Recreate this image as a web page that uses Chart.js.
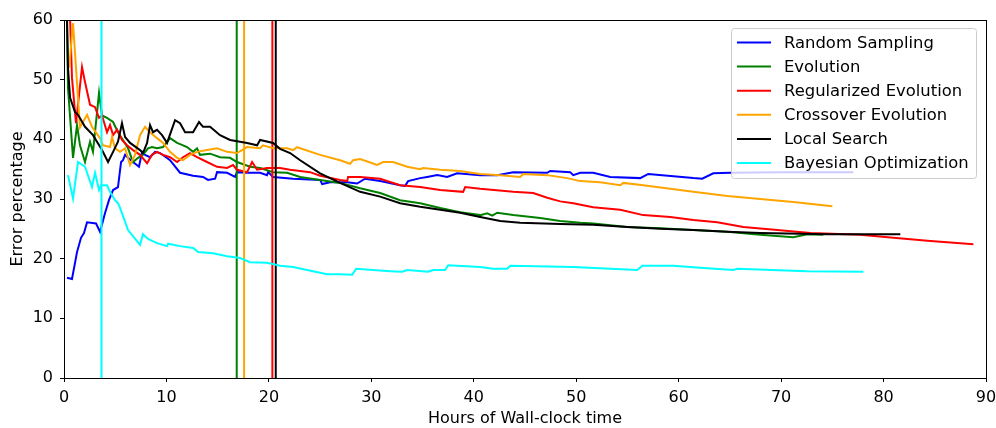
<!DOCTYPE html>
<html>
<head>
<meta charset="utf-8">
<script src="https://cdn.jsdelivr.net/npm/chart.js@4/dist/chart.umd.min.js"></script>
<style>
  html, body { margin: 0; padding: 0; background: #fff; }
  #wrap { width: 996px; height: 428px; }
</style>
</head>
<body>
<div id="wrap"><canvas id="chart" width="996" height="428"></canvas></div>
<script>
// series names and colours
const names = ["Random Sampling", "Evolution", "Regularized Evolution", "Crossover Evolution", "Local Search", "Bayesian Optimization"];
const colors = ["#0000ff", "#008000", "#ff0000", "#ffa500", "#000000", "#00ffff"];

// x ticks / y ticks
const xTicks = [0, 10, 20, 30, 40, 50, 60, 70, 80, 90];
const yTicks = [0, 10, 20, 30, 40, 50, 60];

// [hours, error %]
const randomSampling = [[0.29,16.8],[0.78,16.6],[1.27,21.1],[1.66,23.5],[1.95,24.3],[2.25,26.1],[3.13,25.9],[3.52,24.5],[4.0,27.6],[4.39,29.8],[4.79,31.5],[5.27,32.0],[5.57,36.2],[5.76,36.5],[5.96,37.4],[6.25,36.9],[6.74,36.2],[7.32,35.4],[7.62,37.9],[7.91,37.4],[8.4,37.0],[8.89,37.9],[9.38,37.7],[10.35,36.5],[11.33,34.4],[12.6,33.9],[13.57,33.7],[14.06,33.2],[14.75,33.4],[14.94,34.5],[15.92,34.4],[16.7,33.7],[16.89,34.5],[17.87,34.4],[19.14,34.4],[19.82,34.0],[19.92,34.5],[20.41,33.7],[22.36,33.4],[25.0,33.2],[25.2,32.5],[25.98,32.8],[27.64,32.8],[28.61,32.6],[29.39,33.4],[30.86,33.0],[32.81,32.3],[33.3,32.2],[33.59,33.0],[34.77,33.5],[35.45,33.7],[36.43,34.0],[37.4,33.7],[38.38,34.3],[40.63,34.0],[42.29,34.0],[43.85,34.5],[47.17,34.4],[47.46,34.7],[49.41,34.5],[49.71,34.0],[50.39,34.4],[51.66,34.4],[53.32,33.7],[56.25,33.5],[57.03,34.2],[61.43,33.5],[62.3,33.4],[63.38,34.3],[65.04,34.4],[70.0,34.5],[77.05,34.5]];
const evolution = [[0.29,60.5],[0.39,48.6],[0.88,36.9],[1.27,42.4],[1.56,39.0],[2.05,36.2],[2.54,39.6],[2.83,37.9],[3.42,47.8],[3.71,44.0],[4.2,43.6],[4.79,42.9],[5.27,41.2],[5.76,39.9],[6.25,38.5],[6.74,36.2],[7.23,36.9],[7.71,37.4],[8.2,38.5],[8.59,38.7],[9.08,38.5],[9.67,38.7],[10.35,40.2],[11.04,39.4],[11.62,39.0],[12.01,38.7],[12.6,37.9],[12.99,38.5],[13.28,37.4],[14.26,37.6],[15.23,37.0],[16.21,36.9],[16.89,36.2],[18.16,35.4],[19.14,35.2],[20.41,34.5],[21.78,34.4],[23.05,33.7],[25.0,33.2],[26.95,32.7],[28.91,31.8],[30.86,31.0],[32.81,29.8],[34.77,29.3],[36.72,28.5],[38.67,27.8],[40.63,27.3],[41.31,27.6],[41.8,27.2],[42.29,27.7],[43.85,27.3],[46.48,26.8],[48.44,26.3],[50.39,26.0],[51.66,25.9],[54.98,25.3],[58.2,25.1],[61.43,24.8],[64.75,24.5],[67.97,24.0],[71.19,23.6],[72.56,24.1],[74.12,24.0]];
const regularizedEvolution = [[0.59,60.5],[0.78,50.3],[1.17,42.7],[1.76,52.1],[2.05,49.6],[2.54,45.8],[3.03,45.4],[3.42,43.6],[3.71,44.0],[4.2,41.2],[4.49,42.4],[4.79,40.7],[5.18,41.6],[5.66,39.9],[6.15,39.0],[6.74,38.2],[7.42,37.4],[8.11,36.0],[8.59,37.4],[9.08,37.9],[9.67,37.4],[10.35,37.0],[11.04,36.2],[11.62,37.0],[12.3,37.7],[12.99,37.0],[13.96,36.2],[14.94,35.4],[15.92,35.2],[16.5,35.7],[16.89,34.9],[17.87,34.5],[18.36,36.2],[18.85,34.9],[19.82,35.2],[21.09,35.2],[22.07,34.9],[24.02,34.5],[25.0,33.9],[26.95,33.2],[27.64,33.0],[27.73,33.7],[28.91,33.7],[30.86,33.4],[32.81,32.3],[34.77,32.0],[36.72,31.5],[38.96,31.2],[39.16,32.0],[40.63,31.7],[43.85,31.2],[45.8,31.0],[47.17,30.2],[48.44,29.6],[49.71,29.3],[51.66,28.6],[54.3,28.2],[56.54,27.3],[59.18,27.0],[61.43,26.5],[63.77,26.1],[66.31,25.3],[69.63,24.8],[72.85,24.3],[77.73,24.0],[80.96,23.5],[84.28,23.0],[88.77,22.4]];
const crossoverEvolution = [[0.5,52.0],[0.88,59.5],[1.56,42.0],[2.25,44.1],[2.73,42.1],[3.52,40.2],[3.81,39.0],[4.49,38.7],[4.69,40.4],[4.98,38.5],[5.47,37.9],[5.96,38.5],[6.45,35.7],[6.93,37.4],[7.42,40.7],[7.91,42.1],[8.4,41.2],[9.08,40.2],[9.67,39.4],[10.35,37.9],[11.04,36.9],[11.62,36.5],[12.3,37.4],[12.99,37.9],[13.96,38.2],[14.94,38.5],[15.92,37.9],[16.89,37.7],[17.87,38.7],[19.14,38.5],[19.43,39.0],[20.41,38.5],[21.78,38.5],[22.36,38.2],[22.75,38.7],[23.05,38.5],[25.0,37.4],[26.95,36.5],[27.93,35.9],[28.22,36.5],[28.91,36.7],[30.57,35.7],[31.15,36.2],[32.13,36.2],[33.5,35.4],[34.77,35.0],[35.06,35.2],[36.72,34.9],[38.67,34.7],[40.63,34.2],[42.58,34.0],[44.53,33.7],[44.82,34.2],[47.17,34.0],[49.12,33.5],[50.39,33.0],[52.34,32.8],[54.3,32.3],[54.59,32.7],[56.54,32.3],[59.18,31.7],[61.43,31.2],[64.75,30.5],[67.97,30.0],[71.19,29.5],[75.0,28.8]];
const localSearch = [[0.29,60.5],[0.39,52.0],[0.59,47.0],[1.07,44.6],[1.37,44.1],[2.05,42.1],[2.83,40.7],[3.71,38.2],[4.3,36.2],[4.79,37.9],[5.27,39.6],[5.66,42.7],[5.96,40.4],[6.45,39.4],[7.42,38.2],[7.71,37.7],[8.11,39.4],[8.4,42.4],[8.69,41.2],[9.08,41.6],[9.57,40.7],[10.06,39.4],[10.84,43.2],[11.33,42.7],[11.82,41.2],[12.6,41.2],[13.18,42.9],[13.57,42.1],[14.26,42.1],[15.23,40.7],[16.21,39.9],[17.87,39.4],[18.85,39.0],[19.14,39.9],[20.41,39.4],[21.09,38.4],[22.07,37.7],[23.05,36.5],[25.0,34.3],[26.95,32.7],[28.91,31.2],[30.86,30.4],[32.81,29.3],[34.77,28.7],[36.72,28.2],[38.67,27.7],[40.63,27.0],[42.58,26.3],[44.53,26.0],[48.44,25.8],[51.66,25.7],[54.98,25.3],[58.2,25.0],[61.43,24.8],[64.75,24.5],[67.97,24.3],[74.51,24.1],[81.64,24.1]];
const bayesianOptimization = [[0.39,34.0],[0.88,30.1],[1.37,36.2],[2.05,35.4],[2.73,32.0],[3.03,34.4],[3.42,31.5],[3.62,32.3],[4.2,32.3],[4.49,31.2],[4.98,29.8],[5.27,29.3],[5.47,28.5],[6.25,24.8],[7.42,22.3],[7.71,24.1],[8.2,23.3],[9.08,22.6],[10.06,22.1],[10.16,22.5],[11.33,22.1],[12.6,21.8],[13.09,21.1],[14.55,20.9],[15.92,20.4],[17.19,20.1],[18.16,19.4],[19.82,19.3],[21.09,18.8],[22.36,18.6],[23.73,18.1],[25.68,17.4],[26.95,17.4],[28.13,17.3],[28.52,18.3],[31.84,17.9],[33.01,17.8],[33.5,18.1],[35.55,17.8],[36.04,18.1],[37.21,18.1],[37.5,18.9],[40.63,18.6],[41.89,18.3],[43.26,18.3],[43.55,18.8],[49.71,18.6],[55.96,18.1],[56.45,18.8],[59.47,18.8],[62.79,18.4],[65.33,18.1],[65.72,18.3],[72.56,17.9],[78.03,17.8]];

// hours where each series has its full-height vertical jump
const jumpHours = [null, 16.86, 20.34, 17.58, 20.67, 3.66];
const jumpRange = [0, 60];

const allSeries = [randomSampling, evolution, regularizedEvolution, crossoverEvolution, localSearch, bayesianOptimization];

const FONT = "'DejaVu Sans', sans-serif";

const datasets = [];
allSeries.forEach((s, i) => {
    datasets.push({
        label: names[i],
        data: s.map(p => ({ x: p[0], y: p[1] })),
        borderColor: colors[i],
        borderWidth: 2,
        showLine: true,
        pointRadius: 0,
        tension: 0,
        order: 20 - i * 2
    });
});
jumpHours.forEach((h, i) => {
    if (h === null) return;
    datasets.push({
        label: "_jump" + i,
        data: jumpRange.map(v => ({ x: h, y: v })),
        borderColor: colors[i],
        borderWidth: 2,
        showLine: true,
        pointRadius: 0,
        order: 19 - i * 2
    });
});

// matplotlib style frame + legend box inside the plot
const framePlugin = {
    id: "frame",
    afterDatasetsDraw(chart) {
        const { ctx, chartArea: a } = chart;
        // legend
        const bx = 731, by = 28, bw = 245, bh = 150;
        ctx.save();
        ctx.beginPath();
        ctx.roundRect(bx + 0.5, by + 0.5, bw, bh, 3);
        ctx.fillStyle = "rgba(255,255,255,0.8)";
        ctx.fill();
        ctx.strokeStyle = "#cccccc";
        ctx.lineWidth = 1;
        ctx.stroke();
        ctx.font = "16.4px " + FONT;
        ctx.textBaseline = "middle";
        ctx.fillStyle = "#000";
        names.forEach((n, i) => {
            const y = 42.5 + i * 24.1;
            ctx.beginPath();
            ctx.moveTo(737, y);
            ctx.lineTo(771, y);
            ctx.strokeStyle = colors[i];
            ctx.lineWidth = 2;
            ctx.stroke();
            ctx.fillText(n, 784, y + 1);
        });
        // frame
        ctx.strokeStyle = "#000";
        ctx.lineWidth = 1;
        ctx.strokeRect(a.left + 0.5, a.top + 0.5, a.right - a.left, a.bottom - a.top);
        ctx.restore();
    }
};

new Chart(document.getElementById("chart"), {
    type: "scatter",
    data: { datasets: datasets },
    options: {
        responsive: false,
        animation: false,
        layout: { padding: { top: 20, right: 10, left: 0, bottom: 0 } },
        plugins: { legend: { display: false }, tooltip: { enabled: false } },
        scales: {
            x: {
                type: "linear",
                min: 0, max: 90,
                afterBuildTicks: s => { s.ticks = xTicks.map(v => ({ value: v })); },
                afterFit: s => { s.height = 50; s.paddingLeft = 0; s.paddingRight = 0; },
                ticks: { color: "#000", font: { family: FONT, size: 16 }, padding: 6, maxRotation: 0 },
                grid: { drawOnChartArea: false, drawTicks: true, tickLength: 4, tickColor: "#000" },
                border: { color: "#000" },
                title: { display: true, text: "Hours of Wall-clock time", color: "#000", font: { family: FONT, size: 16 }, padding: { top: 0, bottom: 0 } }
            },
            y: {
                type: "linear",
                min: 0, max: 60,
                afterBuildTicks: s => { s.ticks = yTicks.map(v => ({ value: v })); },
                afterFit: s => { s.width = 64; s.paddingTop = 0; s.paddingBottom = 0; },
                ticks: { color: "#000", font: { family: FONT, size: 16 }, padding: 7 },
                grid: { drawOnChartArea: false, drawTicks: true, tickLength: 4, tickColor: "#000" },
                border: { color: "#000" },
                title: { display: true, text: "Error percentage", color: "#000", font: { family: FONT, size: 16 }, padding: { top: 8, bottom: 0 } }
            }
        }
    },
    plugins: [framePlugin]
});
</script>
</body>
</html>
